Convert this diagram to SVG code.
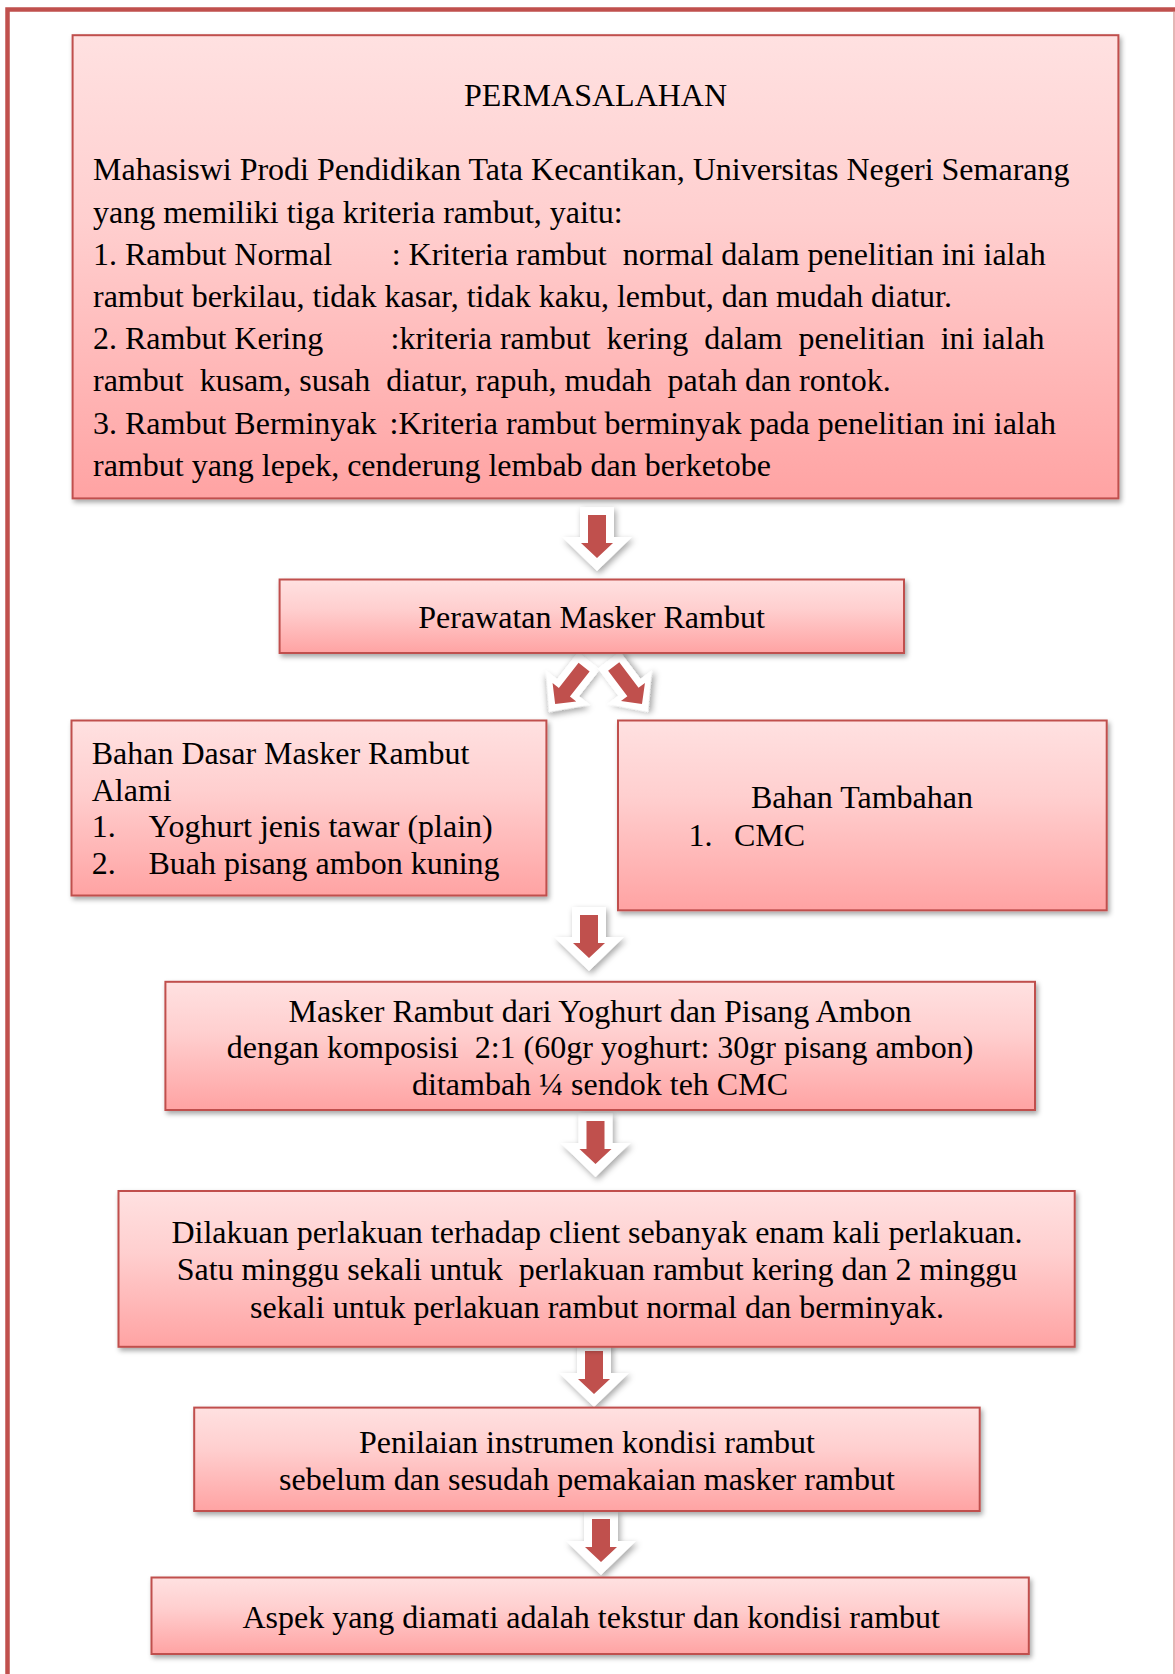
<svg xmlns="http://www.w3.org/2000/svg" width="1175" height="1674" viewBox="0 0 1175 1674">
<defs>
<linearGradient id="boxGrad" x1="0" y1="0" x2="0" y2="1">
<stop offset="0" stop-color="#FFE1E1"/>
<stop offset="0.4" stop-color="#FFCFCF"/>
<stop offset="1" stop-color="#FFA3A3"/>
</linearGradient>
<filter id="shadow" x="-5%" y="-5%" width="115%" height="120%">
<feDropShadow dx="2" dy="3" stdDeviation="2.5" flood-color="#000" flood-opacity="0.35"/>
</filter>
<filter id="ashadow" x="-30%" y="-30%" width="170%" height="170%">
<feDropShadow dx="2" dy="3" stdDeviation="3" flood-color="#000" flood-opacity="0.35"/>
</filter>
<g id="downArrow">
<polygon points="-17,-64 17,-64 17,-34 35,-34 0,0 -35,-34 -17,-34" fill="#FFFFFF" filter="url(#ashadow)"/>
<polygon points="-9,-56 9,-56 9,-28 16,-28 0,-13 -16,-28 -9,-28" fill="#C0504D"/>
</g>
<g id="diagArrow">
<polygon points="-14,-65 14,-65 14,-31 28,-31 0,0 -28,-31 -14,-31" fill="#FFFFFF" filter="url(#ashadow)"/>
<polygon points="-7,-57 7,-57 7,-25 15,-25 0,-10 -15,-25 -7,-25" fill="#C0504D"/>
</g>
</defs>
<style>
.box { fill: url(#boxGrad); stroke: #C0504D; stroke-width: 2; filter: url(#shadow); }
text { font-family: "Liberation Serif", "Times New Roman", serif; font-size: 32px; fill: #000; }
.c { text-anchor: middle; }
</style>
<rect width="1175" height="1674" fill="#FFFFFF"/>
<g id="page-border" fill="none">
<path d="M7.5,1674 V9.5 H1175" stroke="#C0504D" stroke-width="4.5"/>
<line x1="1174" y1="12" x2="1174" y2="1674" stroke="#C0504D" stroke-opacity="0.55" stroke-width="1.5"/>
</g>
<g id="connectors">
<use href="#downArrow" transform="translate(597,571)"/>
<use href="#diagArrow" transform="translate(549,712) rotate(38)"/>
<use href="#diagArrow" transform="translate(648,712) rotate(-37)"/>
<use href="#downArrow" transform="translate(589,971)"/>
<use href="#downArrow" transform="translate(595.5,1177)"/>
<use href="#downArrow" transform="translate(594,1407)"/>
<use href="#downArrow" transform="translate(601,1575)"/>
</g>
<g id="node-permasalahan">
<rect class="box" x="72.6" y="35.2" width="1045.8" height="463.2"/>
<text class="c" x="595.5" y="105.7">PERMASALAHAN</text>
<text x="93" y="180.3">Mahasiswi Prodi Pendidikan Tata Kecantikan, Universitas Negeri Semarang</text>
<text x="93" y="222.5">yang memiliki tiga kriteria rambut, yaitu:</text>
<text x="93" y="264.7" xml:space="preserve">1. Rambut Normal</text>
<text x="391.7" y="264.7" xml:space="preserve">: Kriteria rambut  normal dalam penelitian ini ialah</text>
<text x="93" y="306.9">rambut berkilau, tidak kasar, tidak kaku, lembut, dan mudah diatur.</text>
<text x="93" y="349.1" xml:space="preserve">2. Rambut Kering</text>
<text x="390.6" y="349.1" xml:space="preserve">:kriteria rambut  kering  dalam  penelitian  ini ialah</text>
<text x="93" y="391.3" xml:space="preserve">rambut  kusam, susah  diatur, rapuh, mudah  patah dan rontok.</text>
<text x="93" y="433.5" xml:space="preserve">3. Rambut Berminyak</text>
<text x="389.5" y="433.5" xml:space="preserve">:Kriteria rambut berminyak pada penelitian ini ialah</text>
<text x="93" y="475.7">rambut yang lepek, cenderung lembab dan berketobe</text>
</g>
<g id="node-perawatan">
<rect class="box" x="279.6" y="579.5" width="624.4" height="73.5"/>
<text class="c" x="591.5" y="628">Perawatan Masker Rambut</text>
</g>
<g id="node-bahan-dasar">
<rect class="box" x="71.5" y="720.5" width="474.9" height="175"/>
<text x="91.7" y="764">Bahan Dasar Masker Rambut</text>
<text x="91.7" y="800.5">Alami</text>
<text x="91.7" y="837">1.</text>
<text x="148.5" y="837">Yoghurt jenis tawar (plain)</text>
<text x="91.7" y="874">2.</text>
<text x="148.5" y="874">Buah pisang ambon kuning</text>
</g>
<g id="node-bahan-tambahan">
<rect class="box" x="618" y="720.5" width="488.7" height="189.8"/>
<text x="751" y="808.3">Bahan Tambahan</text>
<text x="688.5" y="846">1.</text>
<text x="734" y="846">CMC</text>
</g>
<g id="node-masker">
<rect class="box" x="165.4" y="981.8" width="869.6" height="128.2"/>
<text class="c" x="600" y="1021.7">Masker Rambut dari Yoghurt dan Pisang Ambon</text>
<text class="c" x="600" y="1058.3" xml:space="preserve">dengan komposisi  2:1 (60gr yoghurt: 30gr pisang ambon)</text>
<text class="c" x="600" y="1095">ditambah ¼ sendok teh CMC</text>
</g>
<g id="node-perlakuan">
<rect class="box" x="118.5" y="1191" width="956.2" height="155.8"/>
<text class="c" x="597" y="1243">Dilakuan perlakuan terhadap client sebanyak enam kali perlakuan.</text>
<text class="c" x="597" y="1280" xml:space="preserve">Satu minggu sekali untuk  perlakuan rambut kering dan 2 minggu</text>
<text class="c" x="597" y="1317.5">sekali untuk perlakuan rambut normal dan berminyak.</text>
</g>
<g id="node-penilaian">
<rect class="box" x="194.2" y="1407.6" width="785.5" height="103.4"/>
<text class="c" x="587" y="1453.2">Penilaian instrumen kondisi rambut</text>
<text class="c" x="587" y="1489.8">sebelum dan sesudah pemakaian masker rambut</text>
</g>
<g id="node-aspek">
<rect class="box" x="151.5" y="1577.5" width="877.3" height="76.5"/>
<text class="c" x="591.2" y="1628.3">Aspek yang diamati adalah tekstur dan kondisi rambut</text>
</g>
</svg>
